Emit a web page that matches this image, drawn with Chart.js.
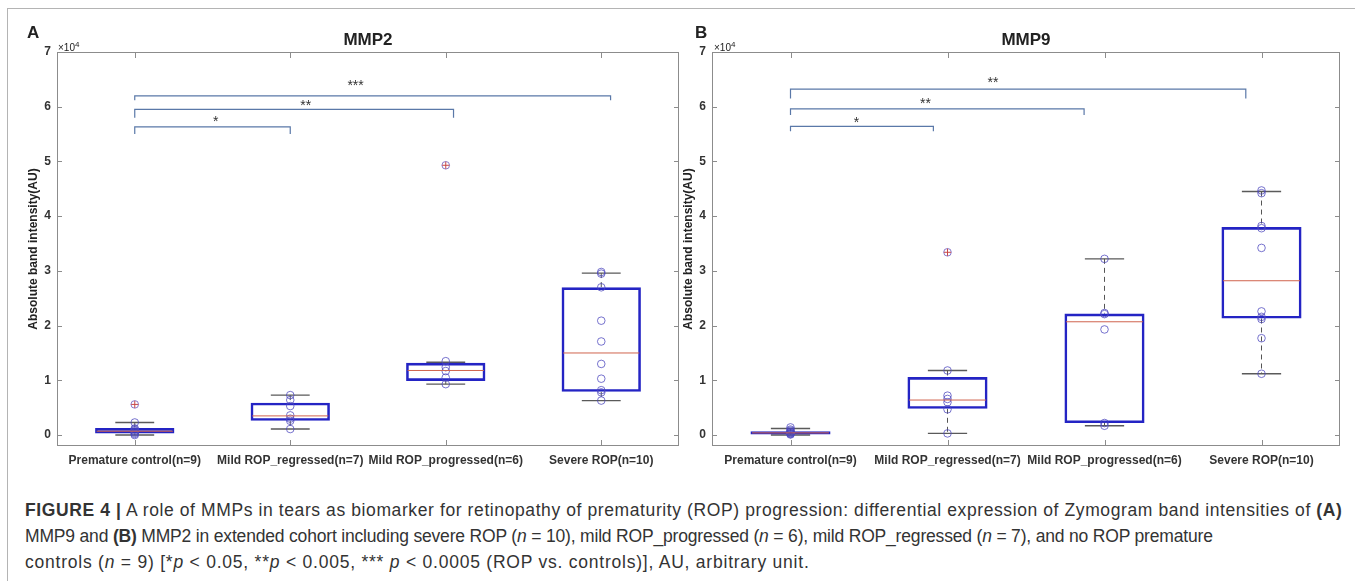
<!DOCTYPE html>
<html>
<head>
<meta charset="utf-8">
<script src="https://cdn.jsdelivr.net/npm/chart.js@4.4.1/dist/chart.umd.min.js"></script>
<style>
  body { margin: 0; background: #fff; font-family: 'Liberation Sans', Arial, sans-serif; color: #222; }
  #fig { position: relative; width: 1355px; height: 581px; overflow: hidden; }
  .frame { position: absolute; left: 7px; top: 8px; width: 1400px; height: 600px; border-left: 1px solid #b4b4b4; border-top: 1px solid #b4b4b4; }
  canvas { position: absolute; top: 0; }
  .lbl { position: absolute; font-weight: bold; font-size: 17px; line-height: 17px; }
  .ttl { position: absolute; font-weight: bold; font-size: 17px; line-height: 17px; transform: translateX(-50%); }
  .exp { position: absolute; font-size: 10px; line-height: 10px; }
  .exp sup { font-size: 8px; vertical-align: 4px; }
  #caption { position: absolute; left: 25px; top: 497px; font-size: 17.5px; line-height: 26px; white-space: nowrap; color: #333; }
  #caption span { display: block; }
</style>
</head>
<body>
<div id="fig">
  <div class="frame"></div>
  <canvas id="chartA" width="685" height="480" style="left:0"></canvas>
  <canvas id="chartB" width="695" height="480" style="left:655px"></canvas>
  <div class="lbl" style="left:27px;top:24px">A</div>
  <div class="ttl" style="left:368px;top:31px">MMP2</div>
  <div class="exp" style="left:58px;top:40px">×10<sup>4</sup></div>
  <div class="lbl" style="left:695px;top:24px">B</div>
  <div class="ttl" style="left:1026px;top:31px">MMP9</div>
  <div class="exp" style="left:714px;top:40px">×10<sup>4</sup></div>
  <div id="caption"><span style="letter-spacing:0.6px"><b>FIGURE 4 |</b> A role of MMPs in tears as biomarker for retinopathy of prematurity (ROP) progression: differential expression of Zymogram band intensities of <b>(A)</b></span><span style="letter-spacing:-0.18px">MMP9 and <b>(B)</b> MMP2 in extended cohort including severe ROP (<i>n</i> = 10), mild ROP_progressed (<i>n</i> = 6), mild ROP_regressed (<i>n</i> = 7), and no ROP premature</span><span style="letter-spacing:0.77px">controls (<i>n</i> = 9) [*<i>p</i> &lt; 0.05, **<i>p</i> &lt; 0.005, *** <i>p</i> &lt; 0.0005 (ROP vs. controls)], AU, arbitrary unit.</span></div>
</div>
<script>
// categorias y ejes
const categories = ['Premature control(n=9)', 'Mild ROP_regressed(n=7)', 'Mild ROP_progressed(n=6)', 'Severe ROP(n=10)'];
const yTicks = [0, 1, 2, 3, 4, 5, 6, 7];

// MMP2 (x10^4 AU)
const mmp2Q1 = [0.03, 0.26, 0.99, 0.79];
const mmp2Q3 = [0.13, 0.59, 1.32, 2.70];
const mmp2Median = [0.07, 0.35, 1.18, 1.50];
const mmp2Low = [0.00, 0.11, 0.93, 0.63];
const mmp2High = [0.23, 0.73, 1.33, 2.96];
const mmp2Points = [
  [0.23, 0.12, 0.10, 0.08, 0.06, 0.04, 0.02, 0.00],
  [0.73, 0.64, 0.53, 0.36, 0.30, 0.26, 0.11],
  [1.35, 1.24, 1.17, 1.05, 0.93],
  [2.98, 2.95, 2.70, 2.09, 1.71, 1.30, 1.03, 0.82, 0.78, 0.63]
];
const mmp2Outliers = [[0.56], [], [4.93], []];
const mmp2Stars = ['*', '**', '***'];
const mmp2StarTo = [2.0, 3.05, 4.06];
const mmp2StarLevel = [5.63, 5.95, 6.20];
const mmp2StarDrop = [5.50, 5.80, 6.12];
const mmp2StarX = [1.52, 2.10, 2.42];
const mmp2StarY = [5.77, 6.07, 6.43];

// MMP9 (x10^4 AU)
const mmp9Q1 = [0.01, 0.48, 0.22, 2.13];
const mmp9Q3 = [0.07, 1.06, 2.22, 3.80];
const mmp9Median = [0.04, 0.64, 2.07, 2.82];
const mmp9Low = [0.00, 0.03, 0.17, 1.12];
const mmp9High = [0.12, 1.18, 3.22, 4.45];
const mmp9Points = [
  [0.14, 0.10, 0.08, 0.06, 0.05, 0.04, 0.03, 0.02, 0.01],
  [1.18, 0.72, 0.66, 0.60, 0.47, 0.03],
  [3.22, 2.23, 2.21, 1.93, 0.22, 0.17],
  [4.47, 4.42, 3.82, 3.78, 3.42, 2.26, 2.16, 2.12, 1.77, 1.12]
];
const mmp9Outliers = [[], [3.34], [], []];
const mmp9Stars = ['*', '**', '**'];
const mmp9StarTo = [1.91, 2.87, 3.90];
const mmp9StarLevel = [5.64, 5.96, 6.32];
const mmp9StarDrop = [5.55, 5.85, 6.15];
const mmp9StarX = [1.42, 1.86, 2.29];
const mmp9StarY = [5.75, 6.11, 6.49];

// bigotes, medianas, marco y corchetes
const boxExtras = {
  id: 'boxExtras',
  beforeDatasetsDraw(chart, args, o) {
    const {ctx, chartArea: a, scales: {x, y}} = chart;
    const step = x.getPixelForValue(1) - x.getPixelForValue(0);
    ctx.save();
    // marco con marcas hacia dentro
    ctx.strokeStyle = '#8c8c8c';
    ctx.lineWidth = 1;
    ctx.strokeRect(Math.round(a.left) + 0.5, Math.round(a.top) + 0.5, Math.round(a.width) - 1, Math.round(a.height) - 1);
    ctx.beginPath();
    yTicks.forEach(v => {
      const py = Math.round(y.getPixelForValue(v)) + 0.5;
      ctx.moveTo(a.left, py); ctx.lineTo(a.left + 5, py);
      ctx.moveTo(a.right, py); ctx.lineTo(a.right - 5, py);
    });
    categories.forEach((c, i) => {
      const xx = Math.round(x.getPixelForValue(i)) + 0.5;
      ctx.moveTo(xx, a.bottom); ctx.lineTo(xx, a.bottom - 6);
      ctx.moveTo(xx, a.top); ctx.lineTo(xx, a.top + 6);
    });
    ctx.stroke();
    categories.forEach((c, i) => {
      const cx = x.getPixelForValue(i);
      const half = step * 0.125;
      // bigotes discontinuos
      ctx.strokeStyle = '#555';
      ctx.lineWidth = 1;
      ctx.setLineDash([5, 4]);
      ctx.beginPath();
      ctx.moveTo(cx, y.getPixelForValue(o.high[i])); ctx.lineTo(cx, y.getPixelForValue(o.q3[i]));
      ctx.moveTo(cx, y.getPixelForValue(o.q1[i])); ctx.lineTo(cx, y.getPixelForValue(o.low[i]));
      ctx.stroke();
      ctx.setLineDash([]);
      ctx.strokeStyle = '#5a5a5a';
      ctx.lineWidth = 1.4;
      ctx.beginPath();
      [o.high[i], o.low[i]].forEach(v => {
        const py = y.getPixelForValue(v);
        ctx.moveTo(cx - half, py); ctx.lineTo(cx + half, py);
      });
      ctx.stroke();
    });
    ctx.restore();
  },
  afterDatasetsDraw(chart, args, o) {
    const {ctx, scales: {x, y}} = chart;
    const step = x.getPixelForValue(1) - x.getPixelForValue(0);
    const px = p => x.getPixelForValue(0) + (p - 1) * step;
    ctx.save();
    // medianas
    ctx.strokeStyle = '#d0644e';
    ctx.lineWidth = 1;
    ctx.beginPath();
    categories.forEach((c, i) => {
      const cx = x.getPixelForValue(i), py = y.getPixelForValue(o.median[i]);
      ctx.moveTo(cx - step * 0.245, py); ctx.lineTo(cx + step * 0.245, py);
    });
    ctx.stroke();
    // corchetes de significancia
    ctx.strokeStyle = '#5a78a8';
    ctx.lineWidth = 1.2;
    o.stars.forEach((s, i) => {
      const x0 = px(1), x1 = px(o.starTo[i]);
      const yt = y.getPixelForValue(o.starLevel[i]), yb = y.getPixelForValue(o.starDrop[i]);
      ctx.beginPath();
      ctx.moveTo(x0, yb); ctx.lineTo(x0, yt); ctx.lineTo(x1, yt); ctx.lineTo(x1, yb);
      ctx.stroke();
    });
    ctx.fillStyle = '#333';
    ctx.font = '14px "Liberation Sans", Arial';
    ctx.textAlign = 'center';
    ctx.textBaseline = 'middle';
    o.stars.forEach((s, i) => ctx.fillText(s, px(o.starX[i]), y.getPixelForValue(o.starY[i]) + 3));
    ctx.restore();
  }
};

function makeChart(id, q1, q3, med, low, high, pts, outl, stars, starTo, starLevel, starDrop, starX, starY) {
  const pointData = [];
  pts.forEach((list, i) => list.forEach(v => pointData.push({x: categories[i], y: v})));
  const outData = [];
  outl.forEach((list, i) => list.forEach(v => outData.push({x: categories[i], y: v})));
  const axisFont = {family: '"Liberation Sans", Arial', size: 12, weight: 'bold'};
  return new Chart(document.getElementById(id), {
    type: 'bar',
    data: {
      labels: categories,
      datasets: [
        {
          type: 'scatter',
          data: pointData,
          pointStyle: 'circle',
          radius: 3.8,
          borderColor: 'rgba(75,70,190,0.75)',
          backgroundColor: 'rgba(0,0,0,0)',
          borderWidth: 1,
          order: 1
        },
        {
          type: 'scatter',
          data: outData,
          pointStyle: 'circle',
          radius: 3.8,
          borderColor: 'rgba(110,90,190,0.8)',
          backgroundColor: 'rgba(0,0,0,0)',
          borderWidth: 1,
          order: 1
        },
        {
          type: 'scatter',
          data: outData,
          pointStyle: 'cross',
          radius: 3.6,
          borderColor: '#c84848',
          borderWidth: 1,
          order: 0
        },
        {
          type: 'bar',
          data: categories.map((c, i) => [q1[i], q3[i]]),
          backgroundColor: 'rgba(255,255,255,0)',
          borderColor: '#2424c4',
          borderWidth: 2.6,
          borderSkipped: false,
          barPercentage: 0.51,
          categoryPercentage: 1,
          order: 2
        }
      ]
    },
    options: {
      responsive: false,
      animation: false,
      layout: {padding: {left: 22, top: 52, right: id === 'chartA' ? 6 : 10, bottom: 0}},
      plugins: {
        legend: {display: false},
        tooltip: {enabled: false},
        boxExtras: {q1, q3, median: med, low, high, stars, starTo, starLevel, starDrop, starX, starY}
      },
      scales: {
        x: {
          type: 'category',
          offset: true,
          grid: {display: false, drawTicks: false},
          border: {display: false},
          ticks: {color: '#333', font: axisFont, padding: 7, autoSkip: false, maxRotation: 0},
          afterFit: s => { s.height = 34; }
        },
        y: {
          min: -0.2,
          max: 7,
          afterBuildTicks: s => { s.ticks = yTicks.map(v => ({value: v})); },
          grid: {display: false, drawTicks: false},
          border: {display: false},
          ticks: {color: '#333', font: axisFont, padding: 6},
          title: {display: true, text: 'Absolute band intensity(AU)', color: '#222', font: {family: '"Liberation Sans", Arial', size: 12, weight: 'bold'}, padding: {top: 4, bottom: 0}},
          afterFit: s => { s.width = 35; }
        }
      }
    },
    plugins: [boxExtras]
  });
}

makeChart('chartA', mmp2Q1, mmp2Q3, mmp2Median, mmp2Low, mmp2High, mmp2Points, mmp2Outliers,
  mmp2Stars, mmp2StarTo, mmp2StarLevel, mmp2StarDrop, mmp2StarX, mmp2StarY);
makeChart('chartB', mmp9Q1, mmp9Q3, mmp9Median, mmp9Low, mmp9High, mmp9Points, mmp9Outliers,
  mmp9Stars, mmp9StarTo, mmp9StarLevel, mmp9StarDrop, mmp9StarX, mmp9StarY);
</script>
</body>
</html>
